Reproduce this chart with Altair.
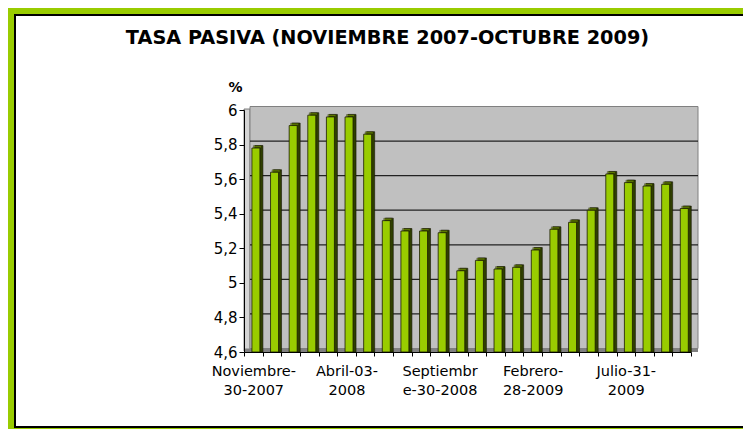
import json
import altair as alt
import pandas as pd

# ---- data ----
tasa = [5.78, 5.64, 5.91, 5.97, 5.96, 5.96, 5.86, 5.36, 5.30, 5.30, 5.29, 5.07,
        5.13, 5.08, 5.09, 5.19, 5.31, 5.35, 5.42, 5.63, 5.58, 5.56, 5.57, 5.43]
meses = list(range(24))
etiquetas = [["Noviembre-", "30-2007"], [""], [""], [""], [""],
             ["Abril-03-", "2008"], [""], [""], [""], [""],
             ["Septiembr", "e-30-2008"], [""], [""], [""], [""],
             ["Febrero-", "28-2009"], [""], [""], [""], [""],
             ["Julio-31-", "2009"], [""], [""], [""]]
ticks_y = [4.6, 4.8, 5.0, 5.2, 5.4, 5.6, 5.8, 6.0]
lineas = [4.8, 5.0, 5.2, 5.4, 5.6, 5.8]
titulo = "TASA PASIVA (NOVIEMBRE 2007-OCTUBRE 2009)"

df = pd.DataFrame({"idx": meses, "tasa": tasa})
grid_df = pd.DataFrame({"tasa": lineas})
one = alt.Data(values=[{"k": 1}])

FONT = "DejaVu Sans"
W, H = 447, 242
yscale = alt.Scale(domain=[4.6, 6.0], nice=False, zero=False)
xscale = alt.Scale(paddingInner=0, paddingOuter=0)

yaxis = alt.Axis(values=ticks_y,
                 labelExpr="replace(format(datum.value, '.2~f'), '.', ',')",
                 title="%", titleAngle=0, titleX=-9, titleY=-19,
                 titleAlign="center", titleBaseline="alphabetic",
                 titleFont=FONT, titleFontSize=14, titleFontWeight="bold",
                 titleColor="black",
                 labelFont=FONT, labelFontSize=15, labelColor="black",
                 labelPadding=2, domainColor="black", tickColor="black",
                 tickSize=5, grid=False, zindex=1)

xaxis = alt.Axis(title=None, labelExpr=json.dumps(etiquetas) + "[datum.value]",
                 labelAngle=0, labelFont=FONT, labelFontSize=14.5,
                 labelLineHeight=19, labelPadding=8, labelColor="black",
                 labelOverlap=False, tickBand="extent", tickSize=4,
                 domainColor="black", tickColor="black", grid=False, zindex=1)

frame = alt.Chart(one).mark_rect(fill="white", stroke="black", strokeWidth=2,
                                 clip=False).encode(
    x=alt.value(-229), x2=alt.value(520), y=alt.value(-95), y2=alt.value(317))

left_wall = alt.Chart(one).mark_rect(fill="#D4D4D4", stroke="#606060",
                                     strokeWidth=0.8).encode(
    x=alt.value(0), x2=alt.value(6), y=alt.value(-1), y2=alt.value(241))

back_wall = alt.Chart(one).mark_rect(fill="#C0C0C0", stroke="#808080",
                                     strokeWidth=1).encode(
    x=alt.value(6), x2=alt.value(454), y=alt.value(-3.5), y2=alt.value(238.5))

floor = alt.Chart(one).mark_rect(fill="#808080").encode(
    x=alt.value(0), x2=alt.value(454), y=alt.value(238.5), y2=alt.value(242))

grid = alt.Chart(grid_df).mark_rule(color="#222222", strokeWidth=1.2,
                                    yOffset=-3.5).encode(
    y=alt.Y("tasa:Q", scale=yscale, axis=yaxis),
    x=alt.value(6), x2=alt.value(454))

side = alt.Chart(df).mark_bar(size=8, xOffset=5.6, yOffset=-2.5,
                              color="#2F3F00", stroke="#141400",
                              strokeWidth=0.6).encode(
    x=alt.X("idx:O", scale=xscale, axis=xaxis),
    y=alt.Y("tasa:Q", scale=yscale, axis=yaxis),
    y2=alt.datum(4.6))

top = alt.Chart(df).mark_tick(size=8, thickness=2.2, xOffset=4.1, yOffset=-1.3,
                              color="#6F8F00", stroke="#141400",
                              strokeWidth=0.5).encode(
    x=alt.X("idx:O", scale=xscale, axis=xaxis),
    y=alt.Y("tasa:Q", scale=yscale, axis=yaxis))

front = alt.Chart(df).mark_bar(size=8, xOffset=2.6, color="#99CC00",
                               stroke="#1A1A00", strokeWidth=0.8).encode(
    x=alt.X("idx:O", scale=xscale, axis=xaxis),
    y=alt.Y("tasa:Q", scale=yscale, axis=yaxis),
    y2=alt.datum(4.6))

title_text = alt.Chart(one).mark_text(text=titulo, font=FONT, fontSize=19.3,
                                      fontWeight="bold", align="center",
                                      baseline="alphabetic", color="black").encode(
    x=alt.value(143.5), y=alt.value(-65.7))

chart = alt.layer(frame, left_wall, back_wall, floor, grid, side, top, front,
                  title_text).properties(
    width=W, height=H, autosize="none",
    padding={"left": 236, "top": 102, "right": 52, "bottom": 77},
).configure(background="#99CC00").configure_view(stroke=None)

chart.save("out.html", embed_options={"renderer": "svg", "actions": False})
